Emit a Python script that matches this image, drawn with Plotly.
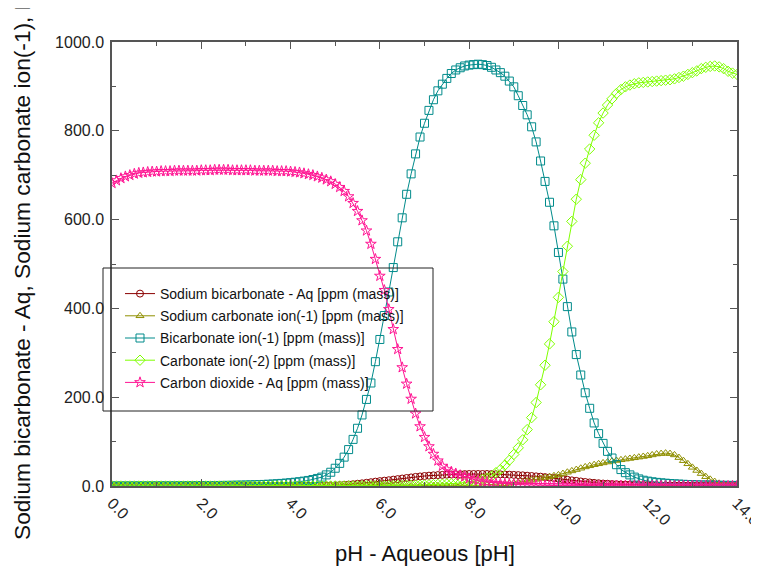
import plotly.graph_objects as go

ph = [0.0, 0.1, 0.2, 0.3, 0.4, 0.5, 0.6, 0.7, 0.8, 0.9,
      1.0, 1.1, 1.2, 1.3, 1.4, 1.5, 1.6, 1.7, 1.8, 1.9,
      2.0, 2.1, 2.2, 2.3, 2.4, 2.5, 2.6, 2.7, 2.8, 2.9,
      3.0, 3.1, 3.2, 3.3, 3.4, 3.5, 3.6, 3.7, 3.8, 3.9,
      4.0, 4.1, 4.2, 4.3, 4.4, 4.5, 4.6, 4.7, 4.8, 4.9,
      5.0, 5.1, 5.2, 5.3, 5.4, 5.5, 5.6, 5.7, 5.8, 5.9,
      6.0, 6.1, 6.2, 6.3, 6.4, 6.5, 6.6, 6.7, 6.8, 6.9,
      7.0, 7.1, 7.2, 7.3, 7.4, 7.5, 7.6, 7.7, 7.8, 7.9,
      8.0, 8.1, 8.2, 8.3, 8.4, 8.5, 8.6, 8.7, 8.8, 8.9,
      9.0, 9.1, 9.2, 9.3, 9.4, 9.5, 9.6, 9.7, 9.8, 9.9,
      10.0, 10.1, 10.2, 10.3, 10.4, 10.5, 10.6, 10.7, 10.8, 10.9,
      11.0, 11.1, 11.2, 11.3, 11.4, 11.5, 11.6, 11.7, 11.8, 11.9,
      12.0, 12.1, 12.2, 12.3, 12.4, 12.5, 12.6, 12.7, 12.8, 12.9,
      13.0, 13.1, 13.2, 13.3, 13.4, 13.5, 13.6, 13.7, 13.8, 13.9,
      14.0]

sodium_bicarbonate_aq = [
    0.1, 0.1, 0.1, 0.1, 0.1, 0.1, 0.1, 0.1, 0.1, 0.1,
    0.1, 0.1, 0.1, 0.1, 0.1, 0.1, 0.1, 0.1, 0.1, 0.1,
    0.1, 0.1, 0.1, 0.1, 0.1, 0.1, 0.2, 0.2, 0.2, 0.2,
    0.2, 0.2, 0.2, 0.2, 0.2, 0.2, 0.2, 0.3, 0.3, 0.3,
    0.3, 0.4, 0.5, 0.6, 0.7, 0.8, 0.9, 1.0, 1.2, 1.4,
    1.6, 2.0, 2.5, 3.2, 4.0, 5.0, 6.0, 7.2, 8.5, 9.8,
    11.0, 12.0, 13.0, 14.3, 15.5, 16.8, 18.0, 19.3, 20.5, 21.5,
    22.5, 23.3, 24.0, 24.6, 25.0, 25.5, 26.0, 26.3, 26.6, 26.8,
    27.0, 27.0, 27.0, 27.0, 27.0, 26.8, 26.5, 26.2, 26.0, 25.5,
    25.0, 24.5, 24.0, 23.2, 22.5, 21.7, 21.0, 20.0, 19.0, 17.8,
    16.5, 15.2, 14.0, 12.7, 11.5, 10.2, 9.0, 8.0, 7.0, 6.2,
    5.5, 5.0, 4.5, 4.0, 3.5, 3.2, 3.0, 2.7, 2.5, 2.3,
    2.1, 1.9, 1.8, 1.6, 1.5, 1.4, 1.3, 1.2, 1.1, 1.0,
    0.9, 0.9, 0.8, 0.8, 0.7, 0.7, 0.6, 0.6, 0.5, 0.5,
    0.5]

sodium_carbonate_ion = [
    0.0, 0.0, 0.0, 0.0, 0.0, 0.0, 0.0, 0.0, 0.0, 0.0,
    0.0, 0.0, 0.0, 0.0, 0.0, 0.0, 0.0, 0.0, 0.0, 0.0,
    0.0, 0.0, 0.0, 0.0, 0.0, 0.0, 0.0, 0.0, 0.0, 0.0,
    0.0, 0.0, 0.0, 0.0, 0.0, 0.0, 0.0, 0.0, 0.0, 0.0,
    0.0, 0.0, 0.0, 0.0, 0.0, 0.0, 0.0, 0.0, 0.0, 0.0,
    0.0, 0.0, 0.0, 0.0, 0.0, 0.0, 0.0, 0.1, 0.1, 0.1,
    0.1, 0.1, 0.1, 0.1, 0.1, 0.1, 0.1, 0.1, 0.1, 0.1,
    0.2, 0.2, 0.3, 0.3, 0.4, 0.5, 0.6, 0.7, 0.8, 0.9,
    1.0, 1.2, 1.5, 1.9, 2.4, 3.0, 3.6, 4.3, 5.1, 6.0,
    7.0, 8.2, 9.5, 11.0, 13.0, 15.0, 17.0, 19.0, 21.0, 23.0,
    25.0, 28.0, 31.0, 34.0, 37.0, 40.0, 43.0, 45.5, 48.0, 50.0,
    52.0, 54.0, 56.0, 57.5, 59.0, 60.5, 62.0, 63.5, 65.0, 66.5,
    68.0, 70.0, 72.0, 73.0, 74.0, 73.0, 70.0, 64.0, 57.0, 50.0,
    42.0, 35.0, 28.0, 21.0, 15.0, 10.0, 6.0, 4.0, 2.5, 1.5,
    1.0]

bicarbonate_ion = [
    0.1, 0.1, 0.1, 0.1, 0.2, 0.2, 0.2, 0.2, 0.3, 0.3,
    0.3, 0.4, 0.4, 0.4, 0.5, 0.5, 0.6, 0.6, 0.7, 0.7,
    0.8, 0.9, 1.0, 1.1, 1.2, 1.3, 1.4, 1.6, 1.8, 2.0,
    2.2, 2.5, 2.8, 3.1, 3.5, 4.0, 4.5, 5.1, 5.8, 6.6,
    7.5, 8.5, 9.7, 11.0, 12.5, 14.5, 17.0, 20.0, 25.0, 31.0,
    40.0, 51.0, 65.0, 82.0, 105.0, 130.0, 160.0, 195.0, 232.0, 280.0,
    330.0, 384.0, 437.0, 492.0, 550.0, 604.0, 657.0, 703.0, 748.0, 786.0,
    817.0, 846.0, 870.0, 890.0, 905.0, 918.0, 929.0, 937.0, 942.0, 946.0,
    948.0, 949.0, 950.0, 949.0, 947.0, 943.0, 937.0, 931.0, 923.0, 912.0,
    899.0, 879.0, 857.0, 836.0, 809.0, 775.0, 732.0, 686.0, 639.0, 586.0,
    526.0, 466.0, 404.0, 347.0, 296.0, 250.0, 210.0, 175.0, 142.0, 118.0,
    96.0, 78.0, 63.0, 48.0, 37.0, 30.0, 25.0, 20.0, 16.0, 13.0,
    11.0, 9.5, 8.2, 7.2, 6.3, 5.5, 4.9, 4.3, 3.8, 3.4,
    3.0, 2.7, 2.4, 2.2, 2.0, 1.8, 1.6, 1.5, 1.4, 1.3,
    1.2]

carbonate_ion = [
    0.0, 0.0, 0.0, 0.0, 0.0, 0.0, 0.0, 0.0, 0.0, 0.0,
    0.0, 0.0, 0.0, 0.0, 0.0, 0.0, 0.0, 0.0, 0.0, 0.0,
    0.0, 0.0, 0.0, 0.0, 0.0, 0.0, 0.0, 0.0, 0.0, 0.0,
    0.0, 0.0, 0.0, 0.0, 0.0, 0.0, 0.0, 0.0, 0.0, 0.0,
    0.0, 0.0, 0.0, 0.0, 0.0, 0.0, 0.0, 0.0, 0.0, 0.0,
    0.1, 0.1, 0.1, 0.1, 0.1, 0.1, 0.2, 0.2, 0.2, 0.2,
    0.3, 0.4, 0.5, 0.6, 0.8, 1.0, 1.2, 1.4, 1.7, 2.0,
    2.3, 2.7, 3.1, 3.6, 4.1, 4.7, 5.3, 6.0, 6.8, 7.6,
    8.5, 10.0, 12.0, 15.0, 18.0, 22.0, 30.0, 37.0, 47.0, 58.0,
    71.0, 86.0, 104.0, 127.0, 154.0, 188.0, 228.0, 272.0, 320.0, 370.0,
    425.0, 483.0, 540.0, 596.0, 646.0, 690.0, 727.0, 759.0, 790.0, 818.0,
    840.0, 858.0, 872.0, 884.0, 893.0, 899.0, 903.0, 906.0, 908.0, 909.0,
    910.0, 911.0, 912.0, 913.0, 914.0, 915.0, 917.0, 920.0, 923.0, 927.0,
    931.0, 935.0, 940.0, 943.0, 945.0, 946.0, 944.0, 940.0, 934.0, 930.0,
    927.0]

carbon_dioxide_aq = [
    682.0, 688.0, 693.0, 697.0, 700.0, 703.0, 705.0, 706.0, 707.0, 708.0,
    708.0, 709.0, 709.0, 709.0, 710.0, 710.0, 710.0, 710.0, 710.0, 710.0,
    711.0, 711.0, 711.0, 712.0, 712.0, 712.0, 712.0, 711.0, 711.0, 711.0,
    711.0, 711.0, 710.0, 710.0, 710.0, 710.0, 710.0, 709.0, 709.0, 709.0,
    708.0, 707.0, 706.0, 704.0, 702.0, 700.0, 697.0, 694.0, 690.0, 686.0,
    680.0, 673.0, 664.0, 652.0, 637.0, 619.0, 598.0, 575.0, 545.0, 511.0,
    473.0, 441.0, 398.0, 353.0, 308.0, 267.0, 230.0, 196.0, 163.0, 134.0,
    110.0, 89.0, 72.0, 57.0, 45.0, 37.0, 32.0, 28.0, 24.0, 21.0,
    17.0, 15.0, 12.0, 10.0, 9.0, 7.0, 6.0, 5.0, 4.5, 4.0,
    3.5, 3.0, 2.6, 2.3, 2.0, 1.8, 1.5, 1.3, 1.1, 1.0,
    0.9, 0.8, 0.7, 0.6, 0.5, 0.5, 0.4, 0.4, 0.3, 0.3,
    0.3, 0.3, 0.3, 0.2, 0.2, 0.2, 0.2, 0.2, 0.2, 0.2,
    0.2, 0.2, 0.1, 0.1, 0.1, 0.1, 0.1, 0.1, 0.1, 0.1,
    0.1, 0.1, 0.1, 0.1, 0.1, 0.1, 0.1, 0.1, 0.1, 0.1,
    0.1]

series_names = [
    "Sodium bicarbonate - Aq [ppm (mass)]",
    "Sodium carbonate ion(-1) [ppm (mass)]",
    "Bicarbonate ion(-1) [ppm (mass)]",
    "Carbonate ion(-2) [ppm (mass)]",
    "Carbon dioxide - Aq [ppm (mass)]",
]
series_values = [sodium_bicarbonate_aq, sodium_carbonate_ion, bicarbonate_ion,
                 carbonate_ion, carbon_dioxide_aq]
colors = ["#8b0000", "#8f8f00", "#008b8b", "#7fff00", "#ff1493"]
symbols = ["circle-open", "triangle-up-open", "square-open", "diamond-open", "star-open"]
sizes = [7, 7, 8, 8, 8]

x_ticks = [0, 2, 4, 6, 8, 10, 12, 14]
y_ticks = [0, 200, 400, 600, 800, 1000]

y_title = ("Sodium bicarbonate - Aq, Sodium carbonate ion(-1), Bicarbonate ion(-1), "
           "Carbonate ion(-2), Carbon dioxide - Aq [ppm (mass)]")
x_title = "pH - Aqueous [pH]"

FONT = "Arial, Liberation Sans, sans-serif"
OFF = 8  # page body margin
W, H = 759 - OFF, 569 - OFF
L, T = 112 - OFF, 42 - OFF
R = W - (737 - OFF)
B = H - (486 - OFF)
PW, PH = W - L - R, H - T - B


def px_x(p):
    return (p - OFF - L) / PW


def px_y(p):
    return (H - B - (p - OFF)) / PH


fig = go.Figure()
for i, (name, vals) in enumerate(zip(series_names, series_values)):
    fig.add_trace(go.Scatter(
        x=ph, y=vals, name=name, mode="lines+markers",
        legendgroup=f"g{i}",
        line=dict(color=colors[i], width=1),
        marker=dict(symbol=symbols[i], size=sizes[i], color=colors[i],
                    line=dict(width=1, color=colors[i])),
    ))

axis_common = dict(
    showgrid=False, zeroline=False, showline=True, linecolor="#555555",
    linewidth=1.5, mirror="allticks", ticks="inside", ticklen=7,
    tickcolor="#555555", tickwidth=1,
    tickfont=dict(family=FONT, size=16, color="#222222"),
    ticklabeloverflow="allow",
)

fig.update_xaxes(
    range=[0, 14], tickvals=x_ticks, ticktext=[f"{v:.1f}" for v in x_ticks],
    tickangle=45,
    minor=dict(tickvals=list(range(0, 15)), ticks="inside", ticklen=4,
               tickcolor="#555555"),
    **axis_common,
)
fig.update_yaxes(
    range=[0, 1000], tickvals=y_ticks, ticktext=[f"{v:.1f}" for v in y_ticks],
    minor=dict(dtick=100, ticks="inside", ticklen=4, tickcolor="#555555"),
    ticklabelstandoff=3,
    **axis_common,
)

fig.add_shape(type="rect", xref="paper", yref="paper",
              x0=px_x(103), x1=px_x(433), y0=px_y(411), y1=px_y(268),
              line=dict(color="#222222", width=1), layer="above")

fig.add_annotation(text=y_title, xref="paper", yref="paper",
                   x=px_x(22), y=px_y(542), xanchor="center", yanchor="bottom",
                   textangle=-90, showarrow=False,
                   font=dict(family=FONT, size=22.7, color="#111111"))
fig.add_annotation(text=x_title, xref="paper", yref="paper",
                   x=0.5, y=px_y(553), xanchor="center", yanchor="middle",
                   showarrow=False,
                   font=dict(family=FONT, size=22, color="#111111"))

fig.update_layout(
    width=W, height=H,
    margin=dict(l=L, r=R, t=T, b=B, autoexpand=False),
    paper_bgcolor="white", plot_bgcolor="white",
    showlegend=True,
    legend=dict(x=px_x(120), y=px_y(278), xanchor="left", yanchor="top",
                bgcolor="rgba(0,0,0,0)", borderwidth=0,
                traceorder="grouped", tracegroupgap=1,
                font=dict(family=FONT, size=14, color="#111111")),
    font=dict(family=FONT),
)

fig.write_html("out.html")
